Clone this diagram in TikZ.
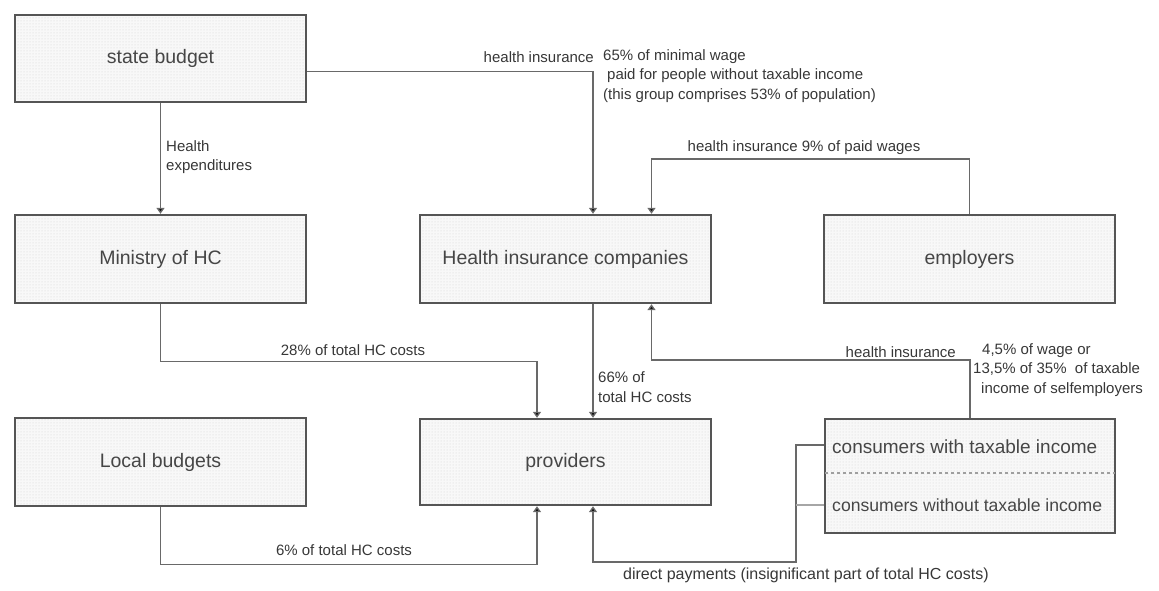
\documentclass[tikz,border=0pt]{standalone}
\usepackage{fontspec}
\setmainfont{Liberation Sans}
\usetikzlibrary{arrows.meta,calc,patterns}
\definecolor{boxline}{RGB}{85,85,85}
\definecolor{conn}{RGB}{105,105,105}
\definecolor{boxtext}{RGB}{70,70,70}
\definecolor{labtext}{RGB}{55,55,55}
\definecolor{boxfill}{RGB}{248,248,248}
\tikzset{
  entity/.style={draw=boxline, line width=2.4pt,
    pattern=dots, pattern color=gray!35,
    minimum width=291pt, minimum height=87pt, inner sep=0pt,
    text=boxtext, font=\fontsize{19.5}{23}\selectfont},
  flow/.style={draw=conn, line width=1.4pt},
  arr/.style={flow, -{Triangle[length=6pt,width=8pt,fill=black]}},
  lab/.style={text=labtext, inner sep=0pt, font=\fontsize{15}{19.5}\selectfont},
}
\begin{document}
\begin{tikzpicture}[x=1pt,y=-1pt]
\useasboundingbox (0,0) rectangle (1159,591);
% box backgrounds
\foreach \cx/\cy/\h in {160.5/58.5/87, 160.5/259/88, 565.5/259/88, 969.5/259/88, 160.5/462/88, 565.5/462/86, 970/476/114}{
  \fill[boxfill] (\cx-145.5,\cy-\h/2) rectangle (\cx+145.5,\cy+\h/2);
}
\node[entity] (sb) at (160.5,58.5) {state budget};
\node[entity, minimum height=88pt] (mn) at (160.5,259) {Ministry of HC};
\node[entity, minimum height=88pt] (hic) at (565.5,259) {Health insurance companies};
\node[entity, minimum height=88pt] (emp) at (969.5,259) {employers};
\node[entity, minimum height=88pt] (loc) at (160.5,462) {Local budgets};
\node[entity, minimum height=86pt] (prov) at (565.5,462) {providers};
\node[entity, minimum width=290pt, minimum height=114pt] (cons) at (970,476) {};
\node[text=boxtext, inner sep=0pt, anchor=west, font=\fontsize{19}{23}\selectfont] (cw) at (832,447) {consumers with taxable income};
\node[text=boxtext, inner sep=0pt, anchor=west, font=\fontsize{17.6}{23}\selectfont] (cwo) at (832,505) {consumers without taxable income};
\draw[gray!75, line width=1.3pt, dash pattern=on 3pt off 3pt] ($(cons.west)+(1,-3)$) -- ($(cons.east)+(-1,-3)$);

% connectors
\draw[arr] (sb.south) -- (mn.north);
\draw[arr] ($(sb.east)+(0,13)$) -| ($(hic.north)+(27.5,0)$);
\draw[arr] (emp.north) -- ++(0,-55) -| ($(hic.north)+(86,0)$);
\draw[arr] (mn.south) -- ++(0,57) -| ($(prov.north)+(-28.5,0)$);
\draw[arr] ($(hic.south)+(27.5,0)$) -- ($(prov.north)+(27.5,0)$);
\draw[arr] (cons.north) -- ++(0,-58) -| ($(hic.south)+(86,0)$);
\draw[arr] (loc.south) -- ++(0,57) -| ($(prov.south)+(-28.5,0)$);
\coordinate (c1) at ($(cons.west)+(0,-31)$);
\coordinate (c2) at ($(cons.west)+(0,29)$);
\coordinate (dp) at (796,562);
\draw[arr] (c1) -- (dp |- c1) -- (dp) -| ($(prov.south)+(27.5,0)$);
\draw[flow, draw=gray!70] (c2) -- (dp |- c2);

% labels
\node[lab, anchor=west, align=left] (l1) at (166,157) {Health\\expenditures};
\node[lab, anchor=east] (l2) at (594,57) {health insurance};
\node[lab, anchor=north west, align=left] (l3) at (603,49) {65\% of minimal wage\\\hspace*{4pt}paid for people without taxable income\\(this group comprises 53\% of population)};
\node[lab] (l4) at (804,148) {health insurance 9\% of paid wages};
\node[lab] (l5) at (353,350) {28\% of total HC costs};
\node[lab, anchor=west, align=left] (l6) at (598,387) {66\% of\\total HC costs};
\node[lab, anchor=east] (l7) at (956,352) {health insurance};
\node[lab, anchor=north west, align=left] (l8) at (973,343) {\hspace*{9pt}4,5\% of wage or\\13,5\% of 35\%\ \ of taxable\\\hspace*{8pt}income of selfemployers};
\node[lab] (l9) at (344,550) {6\% of total HC costs};
\node[lab, anchor=west, font=\fontsize{16}{19.5}\selectfont] (l10) at (623,575) {direct payments (insignificant part of total HC costs)};
\end{tikzpicture}
\end{document}
